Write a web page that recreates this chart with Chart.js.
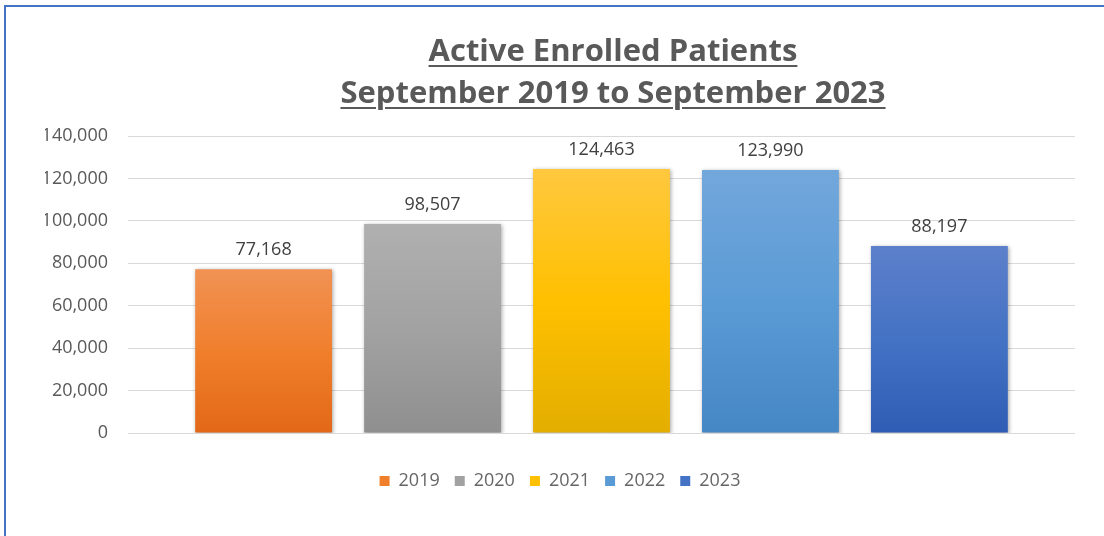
<!DOCTYPE html>
<html>
<head>
<meta charset="utf-8">
<script src="https://cdn.jsdelivr.net/npm/chart.js@4.4.0/dist/chart.umd.min.js"></script>
<style>
  html, body { margin: 0; padding: 0; background: #fff; }
  #wrap { position: relative; width: 1104px; height: 536px; overflow: hidden; }
  #frame {
    position: absolute; left: 4px; top: 5px; width: 1200px; height: 600px;
    border-left: 2px solid #4472c4; border-top: 2px solid #4472c4;
  }
  #title {
    position: absolute; left: 0; top: 28px; width: 1226px;
    text-align: center; color: #595959;
    font: 700 31px "Open Sans", sans-serif; line-height: 42px;
    text-decoration: underline; text-decoration-thickness: 2px; text-underline-offset: 4px;
  }
  #chart { position: absolute; left: 0; top: 0; }
</style>
</head>
<body>
<div id="wrap">
  <div id="frame"></div>
  <canvas id="chart" width="1104" height="536"></canvas>
  <div id="title">Active Enrolled Patients<br>September 2019 to September 2023</div>
</div>
<script>
const years = ["2019", "2020", "2021", "2022", "2023"];
const patients = [77168, 98507, 124463, 123990, 88197];
const yTicks = [0, 20000, 40000, 60000, 80000, 100000, 120000, 140000];

// top, middle, bottom colours of each bar gradient, plus the legend swatch
const gradTop = ["#f19254", "#b0b0b0", "#ffc83f", "#72a7dc", "#5d80cb"];
const gradMid = ["#f07f2c", "#a2a2a2", "#ffc000", "#5b9bd5", "#4472c4"];
const gradBot = ["#e26818", "#8f8f8f", "#e3ae00", "#4586c5", "#2f5db5"];

const font = "'Open Sans', sans-serif";

function barFill(i) {
  return (context) => {
    const chart = context.chart;
    if (!chart.chartArea || context.type !== "data") return gradMid[i];
    const y = chart.scales.y;
    const top = y.getPixelForValue(context.raw);
    const base = y.getPixelForValue(0);
    const g = chart.ctx.createLinearGradient(0, top, 0, base);
    g.addColorStop(0, gradTop[i]);
    g.addColorStop(0.5, gradMid[i]);
    g.addColorStop(1, gradBot[i]);
    return g;
  };
}

const datasets = years.map((yr, i) => ({
  label: yr,
  data: [patients[i]],
  backgroundColor: barFill(i),
  borderWidth: 0,
}));

// soft drop shadow under the bars
const barShadow = {
  id: "barShadow",
  beforeDatasetsDraw(chart) {
    const ctx = chart.ctx;
    ctx.save();
    ctx.shadowColor = "rgba(0,0,0,0.35)";
    ctx.shadowBlur = 4;
    ctx.shadowOffsetX = 1;
    ctx.shadowOffsetY = 1;
  },
  afterDatasetsDraw(chart) {
    chart.ctx.restore();
  },
};

// value labels above each bar
const valueLabels = {
  id: "valueLabels",
  afterDatasetsDraw(chart) {
    const ctx = chart.ctx;
    ctx.save();
    ctx.font = "18px " + font;
    ctx.fillStyle = "#404040";
    ctx.textAlign = "center";
    ctx.textBaseline = "alphabetic";
    chart.data.datasets.forEach((ds, i) => {
      const meta = chart.getDatasetMeta(i);
      if (meta.hidden) return;
      const bar = meta.data[0];
      ctx.fillText(ds.data[0].toLocaleString("en-US"), bar.x, bar.y - 14);
    });
    ctx.restore();
  },
};

new Chart(document.getElementById("chart"), {
  type: "bar",
  data: { labels: [""], datasets: datasets },
  options: {
    responsive: false,
    animation: false,
    categoryPercentage: 0.892,
    barPercentage: 0.81,
    layout: { padding: { top: 136, right: 29, bottom: 36, left: 45 } },
    scales: {
      x: { display: false },
      y: {
        min: 0,
        max: 140000,
        afterFit(scale) { scale.width = 83; },
        afterBuildTicks(scale) { scale.ticks = yTicks.map((v) => ({ value: v })); },
        border: { display: false },
        grid: { color: "#d9d9d9", lineWidth: 1, drawTicks: false },
        ticks: {
          padding: 20,
          color: "#595959",
          font: { family: font, size: 18 },
          callback: (v) => v.toLocaleString("en-US"),
        },
      },
    },
    plugins: {
      tooltip: { enabled: false },
      legend: {
        position: "bottom",
        title: { display: true, text: "", font: { size: 10, lineHeight: 1 }, padding: { top: 14, bottom: 0 } },
        labels: {
          boxWidth: 10,
          boxHeight: 10,
          padding: 15,
          color: "#595959",
          font: { family: font, size: 18 },
          generateLabels(chart) {
            return chart.data.datasets.map((ds, i) => ({
              text: ds.label,
              fillStyle: gradMid[i],
              strokeStyle: gradMid[i],
              lineWidth: 0,
              hidden: false,
              datasetIndex: i,
            }));
          },
        },
      },
    },
  },
  plugins: [barShadow, valueLabels],
});
</script>
</body>
</html>
